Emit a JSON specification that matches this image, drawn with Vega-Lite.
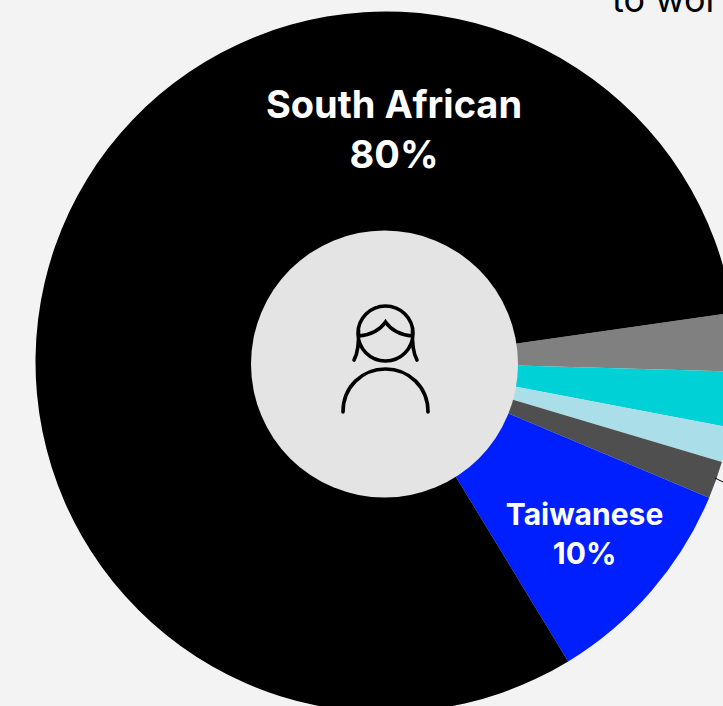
{
 "$schema":"https://vega.github.io/schema/vega-lite/v6.json",
 "width":772,"height":724,"padding":0,"autosize":"none","background":"#f3f3f3",
 "view":{"stroke":null},
 "data":{"values":[
  {"group":"Other 1","share":2.69,"rank":1},
  {"group":"Other 2","share":2.56,"rank":2},
  {"group":"Other 3","share":1.61,"rank":3},
  {"group":"Other 4","share":1.72,"rank":4},
  {"group":"Taiwanese","share":9.97,"rank":5,"label":["Taiwanese","10%"]},
  {"group":"South African","share":81.45,"rank":6,"label":["South African","80%"]}
 ]},
 "layer":[
  {"mark":{"type":"arc","outerRadius":350.5,"innerRadius":0},
   "encoding":{
    "theta":{"field":"share","type":"quantitative","stack":true,"scale":{"domain":[0,100],"range":[1.4294,7.7126]}},
    "order":{"field":"rank","type":"quantitative"},
    "color":{"field":"group","type":"nominal","legend":null,"scale":{"domain":["Other 1","Other 2","Other 3","Other 4","Taiwanese","South African"],"range":["#808080","#00d1d6","#aadfe9","#4f4f4f","#001fff","#000000"]}}}},
  {"transform":[{"filter":"datum.rank==1"}],
   "mark":{"type":"point","shape":"circle","filled":true,"fill":"#e4e4e4","stroke":null,"opacity":1,"size":71289,"xOffset":-1.5,"yOffset":2},"encoding":{}},
  {"transform":[{"filter":"datum.rank==1"}],
   "mark":{"type":"point","size":4,"filled":false,"fill":null,"stroke":"#000000","strokeWidth":3.6,"strokeCap":"round","opacity":1,"yOffset":1,
    "shape":"M-28,-29.5 A27.5,27.5 0 1 1 27,-29.5 A27.5,27.5 0 1 1 -28,-29.5 M-27.5,-27 C-15,-28 -6,-33 -0.5,-41 C5,-33 14,-28 26.5,-27 M-27.5,-33 C-27,-20 -28,-10 -32,-3 M26.5,-33 C26,-20 27,-10 31,-3 M-43,49 C-43,24 -24,6 -0.5,6 C23,6 42,24 42,49"},"encoding":{}},
  {"transform":[{"filter":"datum.rank==1"}],
   "mark":{"type":"point","size":4,"filled":false,"fill":null,"stroke":"#000000","strokeWidth":1,"opacity":1,"yOffset":1,"shape":"M329,115 L337,119"},"encoding":{}},
  {"mark":{"type":"text","radius":262,"font":"Inter","fontWeight":"bold","fontSize":30,"fill":"#ffffff","align":"center","baseline":"middle","lineHeight":39,"dy":-17},
   "encoding":{
    "theta":{"field":"share","type":"quantitative","stack":true},
    "order":{"field":"rank","type":"quantitative"},
    "text":{"condition":{"test":"datum.rank==5","field":"label"},"value":""}}},
  {"transform":[{"filter":"datum.rank==6"}],
   "mark":{"type":"text","font":"Inter","fontWeight":"bold","fontSize":38,"fill":"#ffffff","align":"center","baseline":"middle","lineHeight":50,"dx":8,"dy":-255},
   "encoding":{"text":{"field":"label"}}},
  {"transform":[{"filter":"datum.rank==1"}],
   "mark":{"type":"text","text":"to wor","font":"Inter","fontSize":36,"fill":"#000000","align":"left","baseline":"alphabetic","dx":226,"dy":-350},"encoding":{}}
 ]
}
